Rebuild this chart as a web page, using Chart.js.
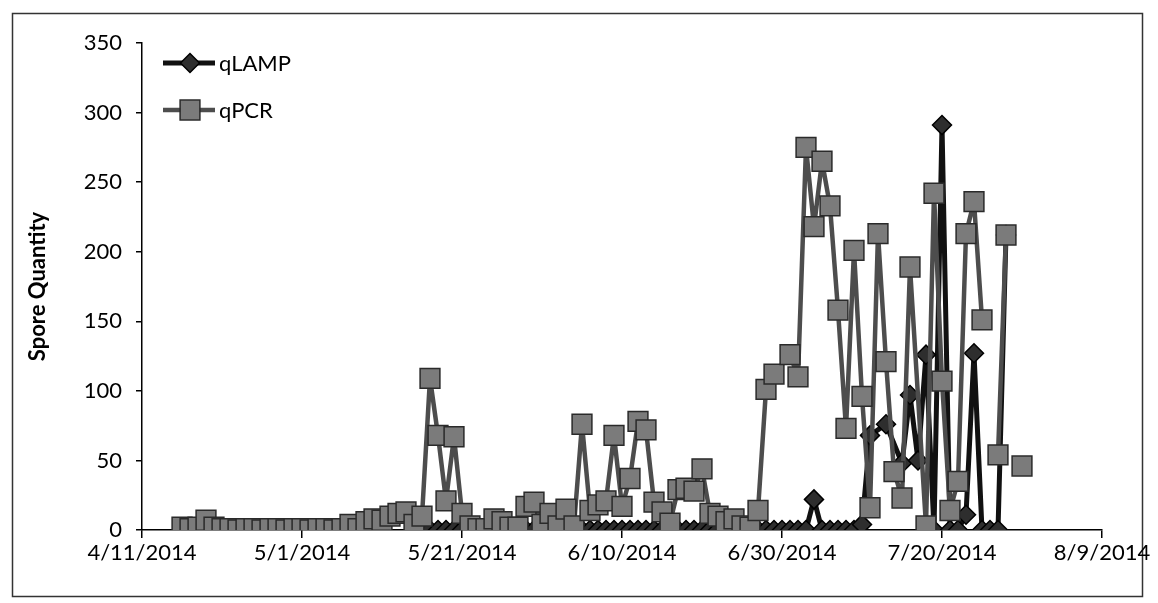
<!DOCTYPE html>
<html>
<head>
<meta charset="utf-8">
<script src="https://cdn.jsdelivr.net/npm/chart.js@4.4.1/dist/chart.umd.min.js"></script>
<style>
	html, body { margin: 0; padding: 0; background: #fff; }
	#wrap { width: 1158px; height: 603px; }
</style>
</head>
<body>
<div id="wrap"><canvas id="sporeChart" width="1158" height="603"></canvas></div>
<script>
// qPCR samples (dates in 2014)
var pcrDates = [
	'4/16','4/17','4/18','4/19','4/20','4/21','4/22','4/23','4/24','4/25','4/26','4/27','4/28','4/29','4/30',
	'5/1','5/2','5/3','5/4','5/5','5/6','5/7','5/8','5/9','5/10','5/11','5/12','5/13','5/14','5/15','5/16',
	'5/17','5/18','5/19','5/20','5/21','5/22','5/23','5/24','5/25','5/26','5/27','5/28','5/29','5/30','5/31',
	'6/1','6/2','6/3','6/4','6/5','6/6','6/7','6/8','6/9','6/10','6/11','6/12','6/13','6/14','6/15',
	'6/16','6/17','6/18','6/19','6/20','6/21','6/22','6/23','6/24','6/25','6/26','6/27','6/28','6/29',
	'7/1','7/2','7/3','7/4','7/5','7/6','7/7','7/8','7/9','7/10','7/11','7/12','7/13','7/14','7/15','7/16',
	'7/18','7/19','7/20','7/21','7/22','7/23','7/24','7/25','7/26','7/27','7/28','7/29','7/30'
];
var pcrValues = [
	2, 1, 2, 7, 2, 1, 1, 0, 1, 1, 0, 1, 1, 0, 1,
	1, 0, 1, 1, 0, 1, 4, 1, 6, 8, 7, 10, 12, 13, 4, 10,
	109, 68, 21, 67, 12, 3, 1, 1, 8, 6, 2, 2, 17, 20, 4,
	12, 3, 15, 3, 76, 14, 18, 21, 68, 17, 37, 78, 72, 20, 13,
	5, 29, 30, 28, 44, 12, 10, 6, 8, 3, 2, 14, 101, 112,
	126, 110, 275, 218, 265, 233, 158, 73, 201, 96, 16, 213, 121, 42, 23, 189,
	3, 242, 107, 14, 35, 213, 236, 151, null, 54, 212, null, 46
];

// qLAMP samples
var lampDates = [
	'5/17','5/18','5/19','5/20','5/21','5/22','5/23','5/24','5/25','5/26','5/27','5/28','5/29','5/30','5/31',
	'6/1','6/2','6/3','6/4','6/5','6/6','6/7','6/8','6/9','6/10','6/11','6/12','6/13','6/14','6/15',
	'6/16','6/17','6/18','6/19','6/20','6/21','6/22','6/23','6/24','6/25','6/26','6/27','6/28','6/29','6/30',
	'7/1','7/2','7/3','7/4','7/5','7/6','7/7','7/8','7/9','7/10','7/11','7/13',
	'7/15','7/16','7/17','7/18','7/19','7/20','7/21','7/22','7/23','7/24','7/25','7/26','7/27','7/28'
];
var lampValues = [
	0, 0, 0, 0, 0, 0, 0, 0, 0, 0, 0, 0, 0, 0, 0,
	0, 0, 0, 0, 0, 0, 0, 0, 0, 0, 0, 0, 0, 0, 0,
	0, 0, 0, 0, 0, 0, 0, 0, 0, 0, 0, 0, 0, 0, 0,
	0, 0, 0, 22, 0, 0, 0, 0, 0, 4, 68, 76,
	48, 97, 50, 126, 0, 291, 0, 0, 11, 127, 0, 0, 0, 212
];

var yTicks = [0, 50, 100, 150, 200, 250, 300, 350];
var xTickDates = ['4/11/2014', '5/1/2014', '5/21/2014', '6/10/2014', '6/30/2014', '7/20/2014', '8/9/2014'];

var startUTC = Date.UTC(2014, 3, 11);

function toDay(s) {
	var p = s.split('/');
	var yr = p.length > 2 ? Number(p[2]) : 2014;
	return (Date.UTC(yr, Number(p[0]) - 1, Number(p[1])) - startUTC) / 86400000;
}

function toPoints(dates, values) {
	return dates.map(function(d, i) { return { x: toDay(d), y: values[i] }; });
}

var xTickDays = xTickDates.map(toDay);

// white background + outer frame
var framePlugin = {
	id: 'frame',
	beforeDraw: function(chart) {
		var ctx = chart.ctx;
		ctx.save();
		ctx.fillStyle = '#fff';
		ctx.fillRect(0, 0, chart.width, chart.height);
		ctx.strokeStyle = '#333';
		ctx.lineWidth = 1.5;
		ctx.strokeRect(12.5, 13.5, 1130, 583);
		ctx.restore();
	}
};

// legend drawn inside the plot, top-left
var legendPlugin = {
	id: 'insideLegend',
	afterDraw: function(chart) {
		var ctx = chart.ctx;
		var area = chart.chartArea;
		ctx.save();
		chart.data.datasets.forEach(function(ds, i) {
			var y = area.top + 20 + i * 47;
			var x0 = area.left + 21;
			ctx.strokeStyle = ds.borderColor;
			ctx.lineWidth = ds.borderWidth;
			ctx.beginPath();
			ctx.moveTo(x0, y);
			ctx.lineTo(x0 + 52, y);
			ctx.stroke();
			ctx.fillStyle = ds.pointBackgroundColor;
			ctx.strokeStyle = ds.pointBorderColor;
			ctx.lineWidth = ds.pointBorderWidth;
			Chart.helpers.drawPoint(ctx, {
				pointStyle: ds.pointStyle,
				radius: ds.pointRadius,
				rotation: 0,
				borderWidth: ds.pointBorderWidth
			}, x0 + 27, y);
			ctx.fillStyle = '#000';
			ctx.font = '22px Lato';
			ctx.textAlign = 'left';
			ctx.textBaseline = 'middle';
			ctx.fillText(ds.label, x0 + 56, y + 1);
		});
		ctx.restore();
	}
};

var ctx = document.getElementById('sporeChart').getContext('2d');
var sporeChart = new Chart(ctx, {
	type: 'line',
	data: {
		datasets: [{
			label: 'qLAMP',
			data: toPoints(lampDates, lampValues),
			borderColor: '#111',
			borderWidth: 5,
			borderJoinStyle: 'round',
			borderCapStyle: 'round',
			pointStyle: 'rectRot',
			pointRadius: 9.5,
			pointBackgroundColor: '#2e2e2e',
			pointBorderColor: '#000',
			pointBorderWidth: 1.5,
			spanGaps: false,
			tension: 0,
			order: 2
		}, {
			label: 'qPCR',
			data: toPoints(pcrDates, pcrValues),
			borderColor: '#4d4d4d',
			borderWidth: 4.5,
			borderJoinStyle: 'round',
			borderCapStyle: 'round',
			pointStyle: 'rect',
			pointRadius: 14,
			pointBackgroundColor: '#7b7b7b',
			pointBorderColor: '#2a2a2a',
			pointBorderWidth: 1.5,
			spanGaps: false,
			tension: 0,
			order: 1
		}]
	},
	options: {
		responsive: false,
		animation: false,
		devicePixelRatio: 1,
		layout: {
			padding: { left: 20, right: 56, top: 43, bottom: 0 }
		},
		scales: {
			x: {
				type: 'linear',
				min: xTickDays[0],
				max: xTickDays[xTickDays.length - 1],
				afterBuildTicks: function(scale) {
					scale.ticks = xTickDays.map(function(v) { return { value: v }; });
				},
				afterFit: function(scale) {
					scale.height = 73;
					scale.paddingLeft = 0;
					scale.paddingRight = 0;
				},
				grid: {
					display: true,
					drawOnChartArea: false,
					drawTicks: true,
					tickLength: 8,
					color: '#000',
					lineWidth: 1.5
				},
				border: { display: true, color: '#000', width: 1.5 },
				ticks: {
					color: '#000',
					padding: 2,
					maxRotation: 0,
					autoSkip: false,
					font: { family: 'Lato', size: 22 },
					callback: function(value) {
						var i = xTickDays.indexOf(value);
						return i >= 0 ? xTickDates[i] : '';
					}
				}
			},
			y: {
				min: yTicks[0],
				max: yTicks[yTicks.length - 1],
				afterBuildTicks: function(scale) {
					scale.ticks = yTicks.map(function(v) { return { value: v }; });
				},
				afterFit: function(scale) {
					scale.width = 122;
					scale.paddingTop = 0;
					scale.paddingBottom = 0;
				},
				grid: {
					display: true,
					drawOnChartArea: false,
					drawTicks: true,
					tickLength: 6,
					color: '#000',
					lineWidth: 1.5
				},
				border: { display: true, color: '#000', width: 1.5 },
				ticks: {
					color: '#000',
					padding: 14,
					font: { family: 'Lato', size: 22 }
				},
				title: {
					display: true,
					text: 'Spore Quantity',
					color: '#000',
					padding: { top: 5, bottom: 0 },
					font: { family: 'Lato', size: 22, weight: 'bold' }
				}
			}
		},
		plugins: {
			legend: { display: false },
			tooltip: { enabled: false }
		}
	},
	plugins: [framePlugin, legendPlugin]
});
</script>
</body>
</html>
